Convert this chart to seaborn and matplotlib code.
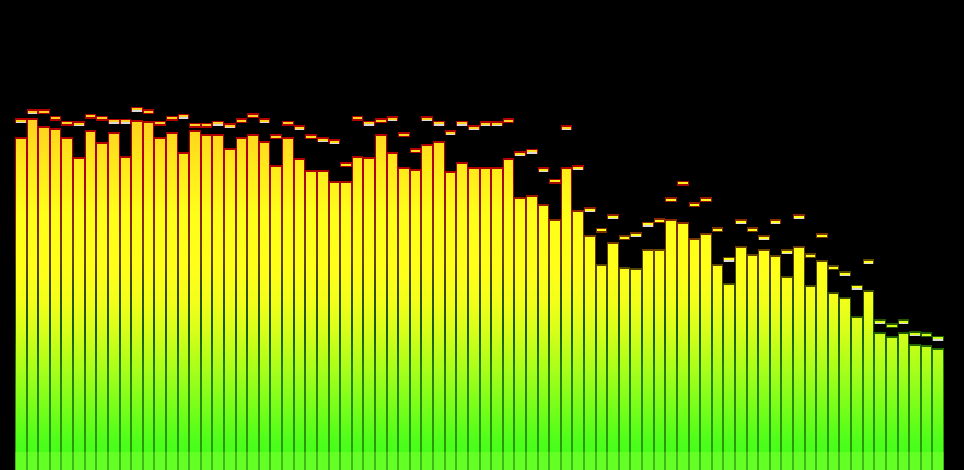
import numpy as np
import matplotlib
matplotlib.use("Agg")
import matplotlib.pyplot as plt
import seaborn as sns
import pandas as pd
from matplotlib.path import Path
from matplotlib.patches import PathPatch
from matplotlib.colors import to_rgb

# ---------------- data (spectrum analyzer, 80 bands, level in px-scale units 0..470) ----------------
bands = [f"B{i + 1:02d}" for i in range(80)]

levels = [333.3, 351.7, 344.3, 342.0, 332.7, 312.7, 340.0, 328.3, 337.7, 314.3,
          350.0, 349.0, 332.7, 337.7, 317.7, 340.0, 335.7, 336.3, 321.7, 333.3,
          335.7, 328.7, 305.3, 332.7, 312.3, 300.3, 300.3, 289.3, 289.3, 314.3,
          312.7, 335.7, 317.7, 303.0, 300.7, 326.3, 328.7, 298.7, 307.7, 302.7,
          302.7, 302.7, 311.7, 272.7, 275.0, 265.7, 251.0, 302.7, 260.0, 235.3,
          206.3, 228.3, 203.0, 201.7, 221.3, 221.3, 250.7, 248.3, 232.0, 236.7,
          206.3, 186.7, 223.7, 215.7, 221.3, 214.7, 193.7, 223.7, 185.3, 209.7,
          178.3, 172.7, 154.0, 179.7, 137.7, 134.3, 137.7, 126.0, 125.0, 121.7]

peaks = [351.7, 361.0, 361.0, 354.3, 349.3, 349.0, 356.3, 354.3, 351.3, 351.3,
         363.3, 361.0, 349.3, 354.3, 356.3, 347.3, 347.3, 349.3, 347.0, 351.7,
         356.7, 351.7, 335.7, 349.3, 344.7, 335.7, 333.0, 330.7, 307.7, 354.3,
         349.3, 351.7, 354.0, 338.0, 321.7, 354.0, 349.3, 340.0, 349.3, 344.7,
         349.0, 349.0, 351.7, 319.0, 321.3, 302.7, 291.3, 344.7, 305.0, 263.0,
         242.3, 255.7, 234.7, 237.7, 248.3, 251.7, 272.7, 289.3, 268.0, 272.7,
         242.7, 213.3, 251.0, 242.7, 234.7, 251.0, 220.7, 255.7, 216.7, 236.7,
         205.0, 199.0, 185.3, 211.0, 150.7, 147.0, 150.7, 139.0, 137.7, 134.3]

falling = [1, 1, 0, 0, 0, 1, 0, 0, 1, 1,
           1, 0, 0, 0, 1, 0, 0, 1, 1, 0,
           0, 1, 0, 0, 1, 0, 1, 1, 0, 0,
           1, 0, 1, 0, 0, 1, 1, 1, 1, 1,
           1, 1, 0, 1, 1, 1, 0, 1, 1, 1,
           0, 1, 0, 1, 1, 0, 0, 0, 0, 0,
           0, 1, 1, 0, 1, 1, 1, 1, 0, 0,
           0, 1, 1, 1, 1, 0, 1, 1, 0, 1]

# gradient stops (height from bottom in px-scale units, colour)
fill_stops = [(0, "#64ff24"), (17.5, "#64ff24"), (18.5, "#48ff1a"), (30, "#50ff1a"),
              (70, "#80ff1a"), (100, "#a8ff1a"), (140, "#d8ff1a"), (170, "#f4ff1a"),
              (200, "#ffff1a"), (255, "#ffff1a"), (300, "#ffec1c"), (330, "#ffdc1e"),
              (355, "#ffd020"), (470, "#ffb020")]
edge_stops = [(0, "#40b818"), (17.5, "#40b818"), (18.5, "#2a9c08"), (100, "#2a7a08"),
              (140, "#1e5a00"), (180, "#3a4a00"), (220, "#6a4000"), (260, "#902000"),
              (300, "#b00000"), (470, "#b00000")]

YMAX = 470.0
NB = len(bands)

# ---------------- figure ----------------
sns.set_theme(style="dark")
plt.rcParams["font.family"] = ["DejaVu Sans"]
fig = plt.figure(figsize=(9.64, 4.70), dpi=100, facecolor="black")
ax = fig.add_axes([15 / 964, 0, 929 / 964, 1])
ax.set_facecolor("black")

df = pd.DataFrame({"band": bands, "level": levels})
sns.barplot(data=df, x="band", y="level", width=1.0, color="black",
            edgecolor="none", errorbar=None, ax=ax)
ax.set_xlim(-0.5, NB - 0.5)
ax.set_ylim(0, YMAX)
ax.set_axis_off()

px_x = NB / 929.0   # one pixel in data x units
px_y = YMAX / 470.0

outer_rects, inner_rects, white_rects = [], [], []
for i, p in enumerate(ax.patches[:NB]):
    x0 = p.get_x()
    w = p.get_width()
    h = p.get_height()
    outer_rects.append((x0, 0, x0 + w, h))
    inner_rects.append((x0 + px_x, -5, x0 + w - px_x, h - 2 * px_y))
    pk = peaks[i]
    outer_rects.append((x0, pk - 5 * px_y, x0 + w, pk))
    inner_rects.append((x0 + px_x, pk - 3.7 * px_y, x0 + w - px_x, pk - 1.5 * px_y))
    if falling[i]:
        white_rects.append((x0 + px_x, pk - 5 * px_y, x0 + w - px_x, pk - 3.7 * px_y))


def rect_path(rects):
    verts, codes = [], []
    for (a, b, c, d) in rects:
        verts += [(a, b), (c, b), (c, d), (a, d), (a, b)]
        codes += [Path.MOVETO, Path.LINETO, Path.LINETO, Path.LINETO, Path.CLOSEPOLY]
    return Path(verts, codes)


def gradient(stops, n=940):
    hs = np.linspace(0, YMAX, n)
    pos = [s[0] for s in stops]
    cols = np.array([to_rgb(s[1]) for s in stops])
    img = np.stack([np.interp(hs, pos, cols[:, k]) for k in range(3)], axis=-1)
    return img[:, None, :]


ext = [-0.5, NB - 0.5, 0, YMAX]
im_edge = ax.imshow(gradient(edge_stops), extent=ext, origin="lower",
                    aspect="auto", interpolation="nearest", zorder=3)
im_edge.set_clip_path(PathPatch(rect_path(outer_rects), transform=ax.transData))
im_fill = ax.imshow(gradient(fill_stops), extent=ext, origin="lower",
                    aspect="auto", interpolation="nearest", zorder=4)
im_fill.set_clip_path(PathPatch(rect_path(inner_rects), transform=ax.transData))

ax.add_patch(PathPatch(rect_path(white_rects), facecolor="#d8d8d8",
                       edgecolor="none", zorder=5))

ax.set_xlim(-0.5, NB - 0.5)
ax.set_ylim(0, YMAX)
fig.savefig("out.png", dpi=100, facecolor="black")
